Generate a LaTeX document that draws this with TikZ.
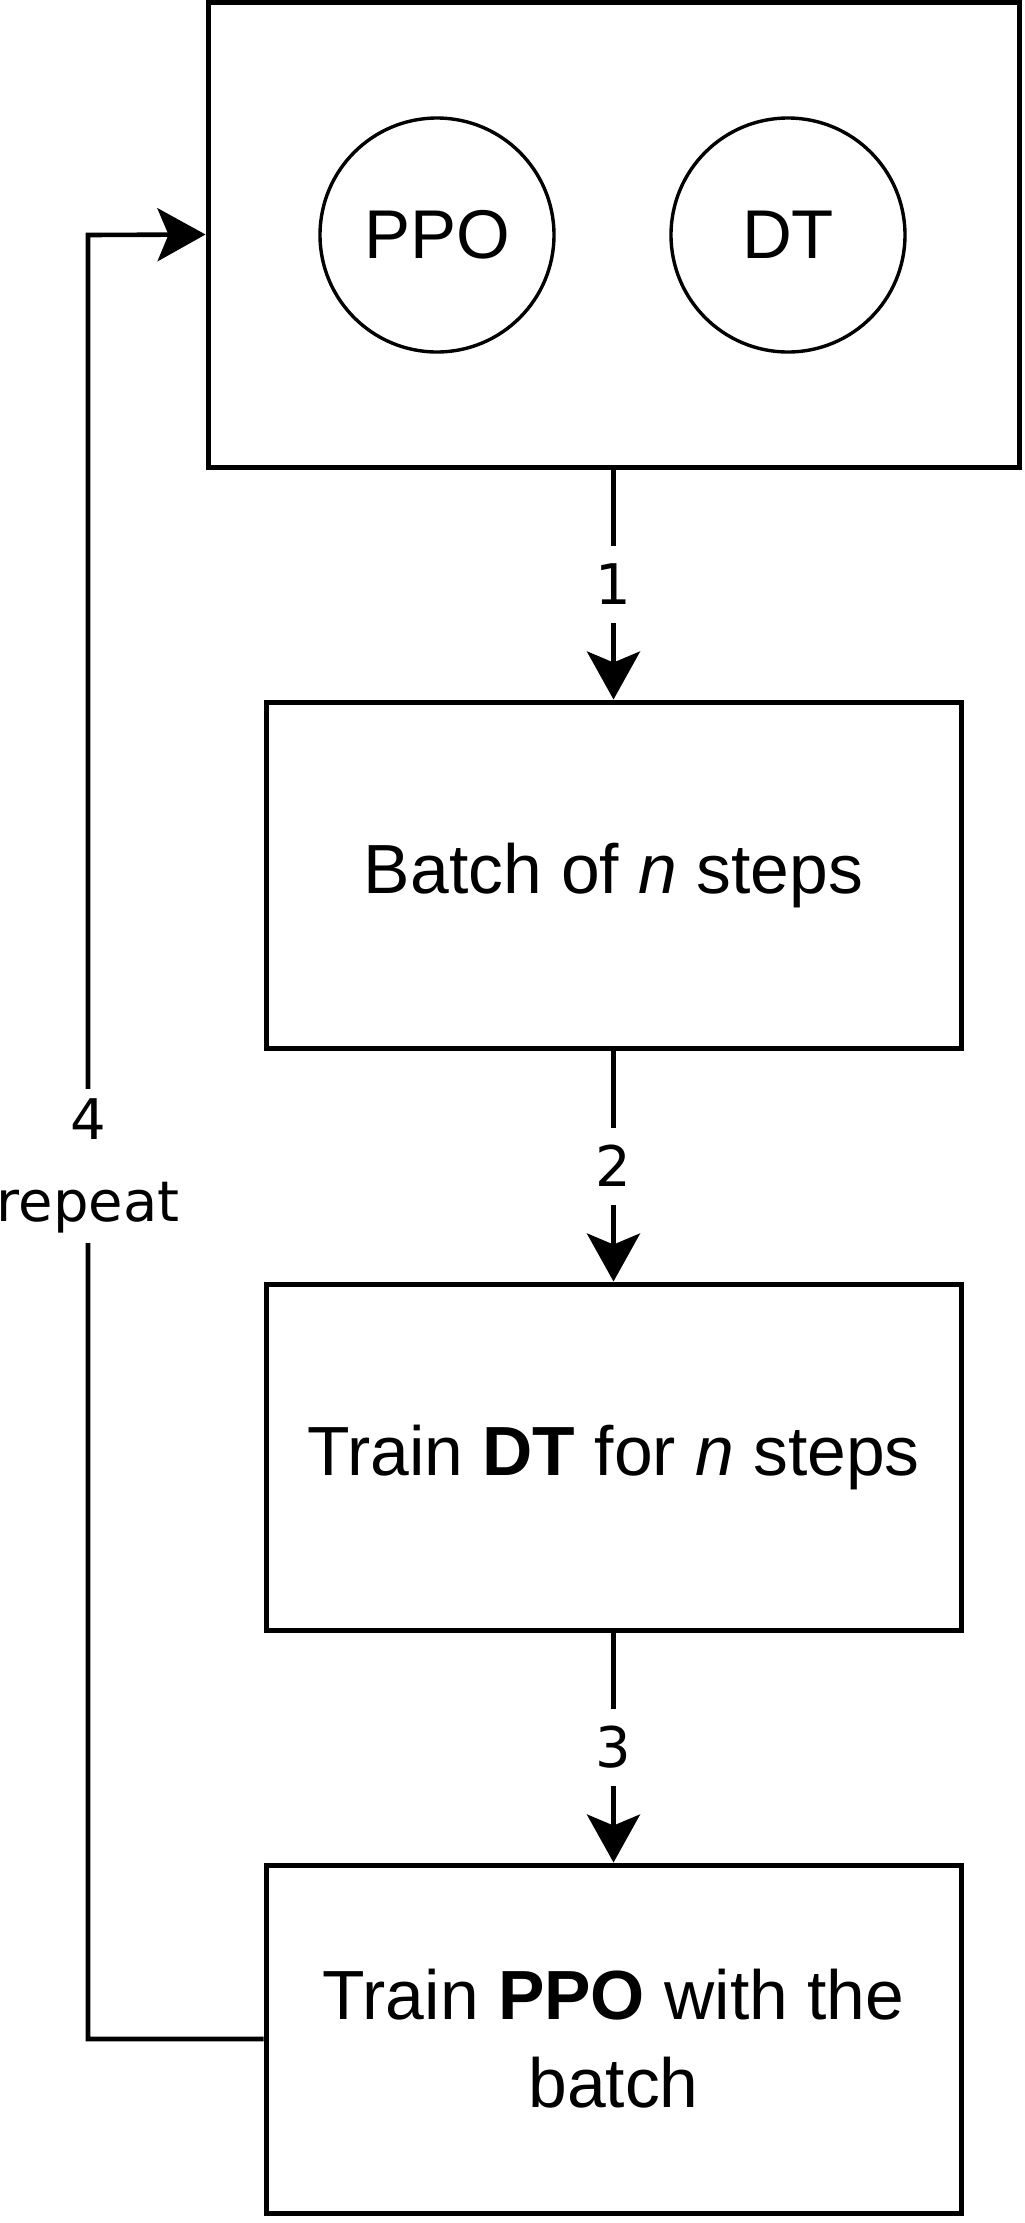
\documentclass[tikz,border=0pt]{standalone}
\usepackage{fontspec}
\setmainfont{Liberation Sans}
\newfontfamily\lblfont{DejaVu Sans}
\usetikzlibrary{arrows.meta}
\begin{document}
\begin{tikzpicture}[x=0.5pt, y=-0.5pt,
  blk/.style={draw, line width=2.5pt, minimum width=347.5pt, minimum height=173pt, inner sep=0pt, align=center, font=\fontsize{34.8}{44}\selectfont},
  mdl/.style={circle, draw, line width=1.7pt, minimum size=117pt, inner sep=0pt, font=\fontsize{34.5}{44}\selectfont},
  flow/.style={line width=2.3pt, -{Stealth[length=24pt, width=26.5pt, inset=5.5pt]}},
  lbl/.style={fill=white, inner sep=0pt, minimum height=38.5pt, align=center, font=\lblfont\fontsize{28}{41}\selectfont}]
\useasboundingbox (0,0) rectangle (1024,2223);
\node[blk, minimum width=405.5pt, minimum height=232.5pt] (blk0) at (613.5,234.5){};
\node[mdl] (mdl0) at (437,235){PPO};
\node[mdl] (mdl1) at (788,235){DT};
\node[blk] (blk1) at (613.5,875){Batch of \textit{n} steps};
\node[blk] (blk2) at (613.5,1457){Train \textbf{DT} for \textit{n} steps};
\node[blk, minimum height=174pt] (blk3) at (613.5,2039){Train \textbf{PPO} with the\\batch};
\coordinate (cnr0) at (88,2039);
\coordinate (cnr1) at (88,235);
\draw[flow](blk0) -- node[lbl]{1} (blk1);
\draw[flow](blk1) -- node[lbl]{2} (blk2);
\draw[flow](blk2) -- node[lbl]{3} (blk3);
\draw[flow](blk3.west) -- (cnr0) -- node[lbl, pos=0.484, inner ysep=5pt]{4\\repeat} (cnr1) -- (blk0.west);
\end{tikzpicture}
\end{document}
